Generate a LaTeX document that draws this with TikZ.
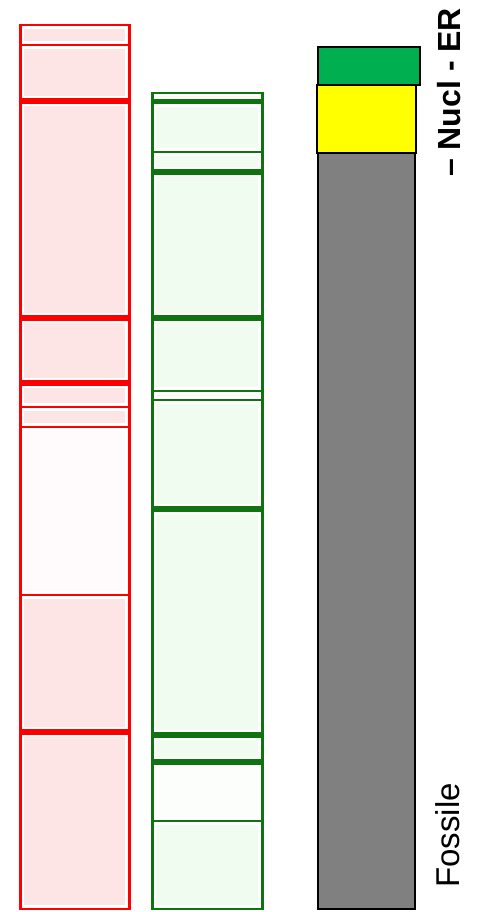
\documentclass[tikz,border=0pt]{standalone}
\usepackage{fontspec}
\setmainfont{Liberation Sans}
\definecolor{bandred}{RGB}{255,0,0}
\definecolor{redfill}{RGB}{253,229,229}
\definecolor{redpale}{RGB}{255,251,252}
\definecolor{bandgreen}{RGB}{15,115,15}
\definecolor{greenfill}{RGB}{240,252,240}
\definecolor{greenpale}{RGB}{252,254,252}
\definecolor{cellgreen}{RGB}{0,176,80}
\definecolor{cellyellow}{RGB}{255,255,0}
\definecolor{cellgray}{RGB}{128,128,128}
\tikzset{
    % --- Outline of one segment in the red column ---
    red band/.style = {
        draw=bandred, line width=2.8pt
    },
    % --- Outline of one segment in the green column ---
    green band/.style = {
        draw=bandgreen, line width=2.8pt
    },
    % --- Solid cell of the right column ---
    cell/.style = {
        draw=black, line width=1.8pt
    },
    % --- Rotated side label ---
    side label/.style = {
        rotate=90, inner sep=0pt,
        font=\fontsize{33}{40}\selectfont
    }
}

\begin{document}
\begin{tikzpicture}[x=1pt, y=-1pt]

\useasboundingbox[fill=white] (0,0) rectangle (495,912);

% ---------------------------------------------------------
% Red column
% ---------------------------------------------------------
\foreach \ya/\yb/\fc in {25/45/redfill, 45/99.6/redfill,
    102.4/316.6/redfill, 319.4/381.6/redfill, 384.4/407/redfill,
    407/427/redfill, 427/595/redpale, 595/730.6/redfill,
    733.4/909/redfill} {
    \fill[\fc] (24.2,\ya+4) rectangle (125.3,\yb-4);
    \draw[red band] (20.2,\ya) rectangle (129.3,\yb);
}

% ---------------------------------------------------------
% Green column
% ---------------------------------------------------------
\foreach \ya/\yb/\fc in {93/100.1/greenfill, 102.9/152/greenfill,
    152/170.6/greenfill, 173.4/316.6/greenfill, 319.4/391/greenfill,
    391/400/greenfill, 400/507.6/greenfill, 510.4/733.6/greenfill,
    736.4/760.6/greenfill, 763.4/821/greenpale, 821/909/greenfill} {
    \fill[\fc] (156.2,\ya+4) rectangle (258.3,\yb-4);
    \draw[green band] (152.2,\ya) rectangle (262.3,\yb);
}

% ---------------------------------------------------------
% Right column: ER / Nucl / Fossile
% ---------------------------------------------------------
\draw[cell, fill=cellgray] (318,153) rectangle (415,909);
\draw[cell, fill=cellgreen] (318,47) rectangle (420,85);
\draw[cell, fill=cellyellow] (317,85) rectangle (416,153);

% ---------------------------------------------------------
% Labels
% ---------------------------------------------------------
\node[side label, font=\bfseries\fontsize{32}{38}\selectfont,
    anchor=base west] (NuclER) at (460,177) {– Nucl - ER};
\node[side label, anchor=base west] (Fossile) at (459,888) {Fossile};

\end{tikzpicture}
\end{document}
